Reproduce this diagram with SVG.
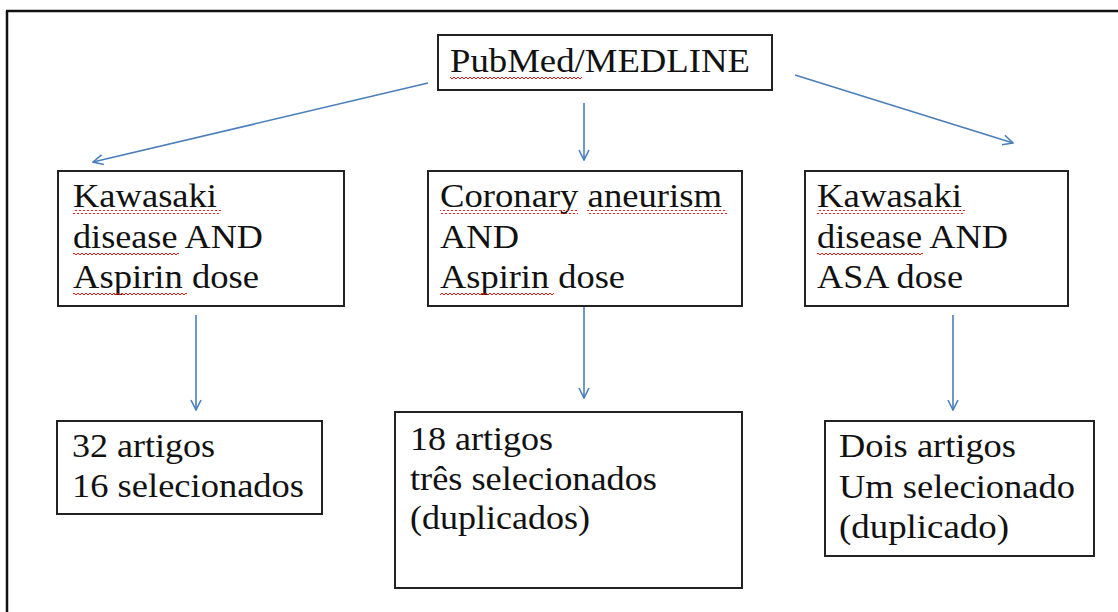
<svg xmlns="http://www.w3.org/2000/svg" width="1118" height="612" viewBox="0 0 1118 612">
<style>
.box{fill:#fff;stroke:#222;stroke-width:2}
.t{font-family:"Liberation Serif","Times New Roman",serif;font-size:33px;fill:#111}
.c{stroke:#4a7ebb;stroke-width:1.6;fill:none;marker-end:url(#ah)}
.sq{fill:url(#sq)}
</style>
<defs>
<marker id="ah" viewBox="0 0 12 12" refX="11" refY="6" markerWidth="12" markerHeight="12" markerUnits="userSpaceOnUse" orient="auto">
<path d="M1,1 L11,6 L1,11" fill="none" stroke="#4a7ebb" stroke-width="1.6"/>
</marker>
<pattern id="sq" width="4" height="4" patternUnits="userSpaceOnUse">
<path d="M0,3 L2,1 L4,3" fill="none" stroke="#f00" stroke-width="0.9"/>
</pattern>
</defs>
<rect width="1118" height="612" fill="#fff"/>
<g id="frame">
<path d="M6,11 H1118 M7,11 V612" stroke="#111" stroke-width="2.5" fill="none"/>
</g>
<g id="connectors">
<line class="c" x1="428" y1="83" x2="93" y2="162"/>
<line class="c" x1="584" y1="103" x2="584" y2="160"/>
<line class="c" x1="795" y1="75" x2="1013" y2="143"/>
<line class="c" x1="196" y1="315" x2="196" y2="410"/>
<line class="c" x1="584" y1="304" x2="584" y2="398"/>
<line class="c" x1="953" y1="315" x2="953" y2="410"/>
</g>
<g id="pubmed">
<rect class="box" x="438" y="35" width="334" height="55"/>
<text class="t" x="450" y="72" textLength="300" lengthAdjust="spacingAndGlyphs">PubMed/MEDLINE</text>
<rect class="sq" x="450" y="76" width="132" height="4"/>
</g>
<g id="q1">
<rect class="box" x="58" y="171" width="286" height="135"/>
<text class="t" x="73" y="207" textLength="144" lengthAdjust="spacingAndGlyphs">Kawasaki</text>
<text class="t" x="73" y="248" textLength="190" lengthAdjust="spacingAndGlyphs">disease AND</text>
<text class="t" x="73" y="288" textLength="186" lengthAdjust="spacingAndGlyphs">Aspirin dose</text>
<rect class="sq" x="73" y="210" width="148" height="4"/>
<rect class="sq" x="73" y="252" width="106" height="4"/>
<rect class="sq" x="73" y="293" width="114" height="4"/>
</g>
<g id="q2">
<rect class="box" x="428" y="171" width="314" height="135"/>
<text class="t" x="440" y="207" textLength="282" lengthAdjust="spacingAndGlyphs">Coronary aneurism</text>
<text class="t" x="440" y="248" textLength="79" lengthAdjust="spacingAndGlyphs">AND</text>
<text class="t" x="440" y="288" textLength="185" lengthAdjust="spacingAndGlyphs">Aspirin dose</text>
<rect class="sq" x="440" y="210" width="138" height="4"/>
<rect class="sq" x="587" y="210" width="140" height="4"/>
<rect class="sq" x="440" y="293" width="114" height="4"/>
</g>
<g id="q3">
<rect class="box" x="805" y="171" width="263" height="135"/>
<text class="t" x="817" y="207" textLength="145" lengthAdjust="spacingAndGlyphs">Kawasaki</text>
<text class="t" x="817" y="248" textLength="191" lengthAdjust="spacingAndGlyphs">disease AND</text>
<text class="t" x="817" y="288" textLength="146" lengthAdjust="spacingAndGlyphs">ASA dose</text>
<rect class="sq" x="817" y="210" width="148" height="4"/>
<rect class="sq" x="817" y="252" width="106" height="4"/>
</g>
<g id="r1">
<rect class="box" x="57" y="421" width="265" height="93"/>
<text class="t" x="72" y="457" textLength="143" lengthAdjust="spacingAndGlyphs">32 artigos</text>
<text class="t" x="72" y="497" textLength="232" lengthAdjust="spacingAndGlyphs">16 selecionados</text>
</g>
<g id="r2">
<rect class="box" x="395" y="412" width="347" height="176"/>
<text class="t" x="410" y="450" textLength="143" lengthAdjust="spacingAndGlyphs">18 artigos</text>
<text class="t" x="410" y="490" textLength="247" lengthAdjust="spacingAndGlyphs">três selecionados</text>
<text class="t" x="410" y="529" textLength="180" lengthAdjust="spacingAndGlyphs">(duplicados)</text>
</g>
<g id="r3">
<rect class="box" x="825" y="421" width="269" height="135"/>
<text class="t" x="839" y="457" textLength="177" lengthAdjust="spacingAndGlyphs">Dois artigos</text>
<text class="t" x="839" y="498" textLength="236" lengthAdjust="spacingAndGlyphs">Um selecionado</text>
<text class="t" x="839" y="538" textLength="170" lengthAdjust="spacingAndGlyphs">(duplicado)</text>
</g>
</svg>
